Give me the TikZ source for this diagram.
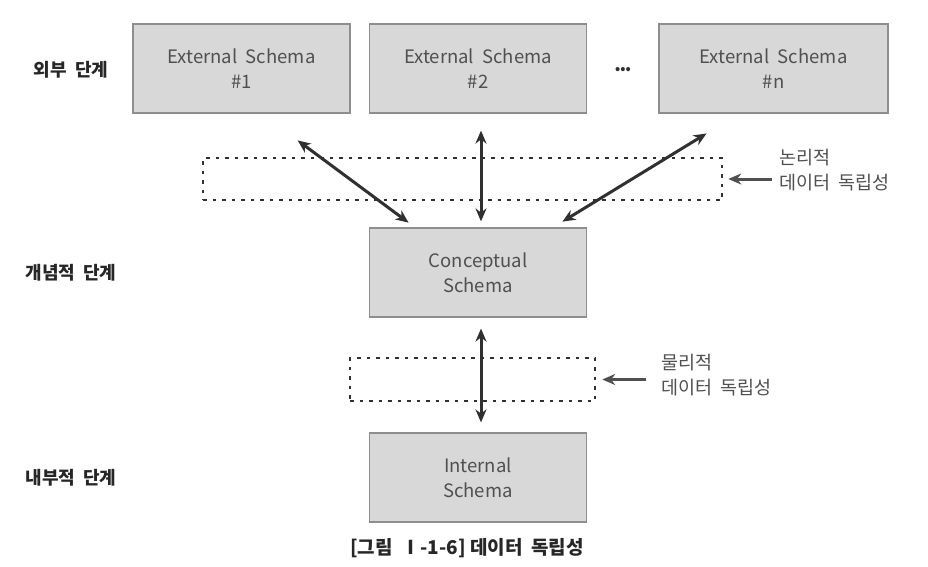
\documentclass[tikz,border=0pt]{standalone}
\usepackage{fontspec}
\setmainfont{Noto Sans CJK KR}
\usetikzlibrary{arrows.meta, positioning}
\definecolor{boxfill}{HTML}{D8D8D8}
\definecolor{boxline}{HTML}{8E8E8E}
\definecolor{boxtext}{HTML}{505050}
\definecolor{arrowc}{HTML}{303030}
\tikzset{
  schema/.style={draw=boxline, fill=boxfill, line width=1.2pt, minimum width=217pt, minimum height=89pt, align=center, text=boxtext, font=\fontsize{18.5}{25}\selectfont},
  level/.style={font=\fontsize{18}{22}\selectfont\bfseries, text=black!85},
  indep/.style={draw=arrowc, line width=2.5pt, dash pattern=on 3.5pt off 6pt, fill=none},
  note/.style={align=left, anchor=west, inner sep=0pt, text=boxtext, font=\fontsize{18.5}{25}\selectfont},
  dbl/.style={{Stealth[length=13pt,width=11pt]}-{Stealth[length=13pt,width=11pt]}, line width=3pt, draw=arrowc},
  pointer/.style={-{Stealth[length=13pt,width=11pt]}, line width=3pt, draw=boxtext}
}
\begin{document}
\begin{tikzpicture}[x=1pt, y=-1pt]
			\useasboundingbox[fill=white] (0,0) rectangle (928,566);
			% levels
			\node[level] (lext) at (71,70) {외부~~단계};
			\node[level] (lcon) at (71,273) {개념적~~단계};
			\node[level] (lint) at (71,478) {내부적~~단계};
			% schemas
			\node[schema] (e1) at (241.5,68.5) {External~~Schema\\\#1};
			\node[schema] (e2) at (478,68.5) {External~~Schema\\\#2};
			\node[font=\fontsize{13}{13}\selectfont\bfseries, text=arrowc, inner sep=0pt] (dots) at (623,70) {•••};
			\node[schema, minimum width=229pt] (en) at (773.5,68.5) {External~~Schema\\\#n};
			\node[schema] (c) at (478,272.5) {Conceptual\\Schema};
			\node[schema] (i) at (478,477.5) {Internal\\Schema};
			% independence
			\node[indep, minimum width=519pt, minimum height=42pt] (dl) at (462.5,179) {};
			\node[indep, minimum width=245pt, minimum height=43pt] (dp) at (472.5,379.5) {};
			\node[note] (nl) at (779,170) {논리적\\데이터~~독립성};
			\node[note] (np) at (661,375) {물리적\\데이터~~독립성};
			% arrows
			\draw[dbl, shorten <=45pt, shorten >=8pt] ([xshift=20pt]e1.south) -- ([xshift=-63pt]c.north);
			\draw[dbl, shorten <=17pt, shorten >=6pt] ([xshift=3pt]e2.south) -- ([xshift=3pt]c.north);
			\draw[dbl, shorten <=38pt, shorten >=11pt] ([xshift=-34.5pt]en.south) -- ([xshift=75pt]c.north);
			\draw[dbl, shorten <=11pt, shorten >=10pt] ([xshift=3pt]c.south) -- ([xshift=3pt]i.north);
			\draw[pointer, shorten <=7pt, shorten >=5pt] (nl.west |- dl.east) -- (dl.east);
			\draw[pointer, shorten <=15pt, shorten >=6pt] (np.west |- dp.east) -- (dp.east);
			% caption
			\node[font=\fontsize{19}{22}\selectfont\bfseries, text=black!85] (cap) at (467,548) {[그림~~Ⅰ-1-6]~데이터~~독립성};
\end{tikzpicture}
\end{document}
